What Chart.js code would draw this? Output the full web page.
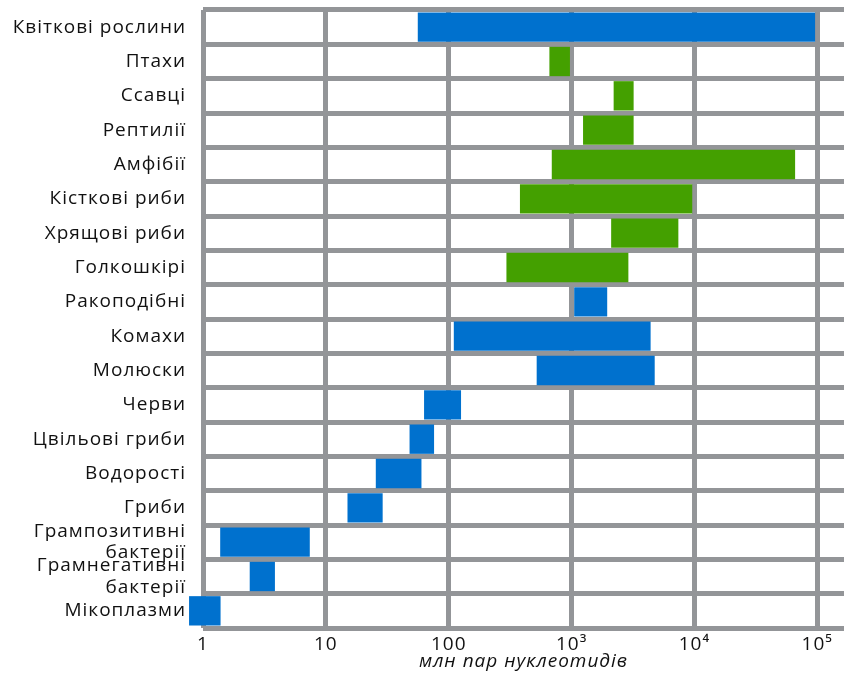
<!DOCTYPE html>
<html>
<head>
<meta charset="utf-8">
<script src="https://cdn.jsdelivr.net/npm/chart.js@4/dist/chart.umd.min.js"></script>
<style>
  html, body { margin: 0; padding: 0; background: #ffffff; }
  #wrap { width: 844px; height: 673px; position: relative; }
</style>
</head>
<body>
<div id="wrap"><canvas id="c"></canvas></div>
<script>
// Categories (top to bottom)
const categories = [
  'Квіткові рослини', 'Птахи', 'Ссавці', 'Рептилії', 'Амфібії',
  'Кісткові риби', 'Хрящові риби', 'Голкошкірі', 'Ракоподібні', 'Комахи',
  'Молюски', 'Черви', 'Цвільові гриби', 'Водорості', 'Гриби',
  ['Грампозитивні', 'бактерії'], ['Грамнегативні', 'бактерії'], 'Мікоплазми'
];
// Genome size ranges, million base pairs
const rangeMin = [56, 660, 2200, 1240, 690, 380, 2100, 295, 1050, 110, 520, 63, 48, 25.5, 15, 1.38, 2.4, 0.77];
const rangeMax = [96000, 970, 3200, 3200, 66000, 9600, 7400, 2900, 1950, 4400, 4750, 126, 76, 60, 29, 7.4, 3.85, 1.39];
// Which categories belong to the green group (vertebrates & echinoderms)
const greenGroup = ['Птахи', 'Ссавці', 'Рептилії', 'Амфібії', 'Кісткові риби', 'Хрящові риби', 'Голкошкірі'];
// X-axis ticks
const tickValues = [1, 10, 100, 1000, 10000, 100000];
const tickLabels = ['1', '10', '100', '10³', '10⁴', '10⁵'];
const axisTitle = 'млн пар нуклеотидів';

const catKey = c => Array.isArray(c) ? c.join(' ') : c;
const isGreen = categories.map(c => greenGroup.includes(catKey(c)));
const blueData = categories.map((c, i) => isGreen[i] ? null : [rangeMin[i], rangeMax[i]]);
const greenData = categories.map((c, i) => isGreen[i] ? [rangeMin[i], rangeMax[i]] : null);

const GRID = '#939598';
const FONT = '"Open Sans", "Noto Sans", sans-serif';

const spacingPlugin = {
  id: 'spacing',
  beforeUpdate(chart) { chart.ctx.letterSpacing = '1px'; },
  beforeDraw(chart) { chart.ctx.letterSpacing = '1px'; }
};

new Chart(document.getElementById('c'), {
  type: 'bar',
  plugins: [spacingPlugin],
  data: {
    labels: categories,
    datasets: [
      { data: blueData, backgroundColor: '#0071CE', borderWidth: 0, grouped: false,
        barPercentage: 0.855, categoryPercentage: 1, clip: false },
      { data: greenData, backgroundColor: '#44A000', borderWidth: 0, grouped: false,
        barPercentage: 0.855, categoryPercentage: 1, clip: false }
    ]
  },
  options: {
    indexAxis: 'y',
    responsive: true,
    maintainAspectRatio: false,
    animation: false,
    layout: { padding: { top: 10, right: 0, bottom: 0, left: 0 } },
    plugins: { legend: { display: false }, tooltip: { enabled: false } },
    scales: {
      x: {
        type: 'logarithmic',
        min: 1,
        max: 165000,
        afterBuildTicks: s => { s.ticks = tickValues.map(v => ({ value: v, major: true })); },
        afterFit: s => { s.height = 45; s.paddingLeft = 0; s.paddingRight = 0; },
        border: { display: false },
        grid: { color: GRID, lineWidth: 5, drawTicks: false },
        ticks: {
          autoSkip: false, maxRotation: 0, padding: 5, color: '#111',
          font: { family: FONT, size: 19 },
          callback: (v) => { const i = tickValues.indexOf(v); return i >= 0 ? tickLabels[i] : ''; }
        },
        title: {
          display: true, text: axisTitle, color: '#111',
          font: { family: FONT, size: 19, style: 'italic' },
          padding: { top: 0, bottom: 0 }
        }
      },
      y: {
        type: 'category',
        offset: true,
        afterFit: s => { s.width = 203; s.paddingTop = 0; s.paddingBottom = 0; },
        border: { display: false },
        grid: { color: GRID, lineWidth: 5, drawTicks: false, offset: true },
        ticks: {
          autoSkip: false, padding: 17, color: '#111',
          font: { family: FONT, size: 19, lineHeight: 1.12 }
        }
      }
    }
  }
});
</script>
</body>
</html>
